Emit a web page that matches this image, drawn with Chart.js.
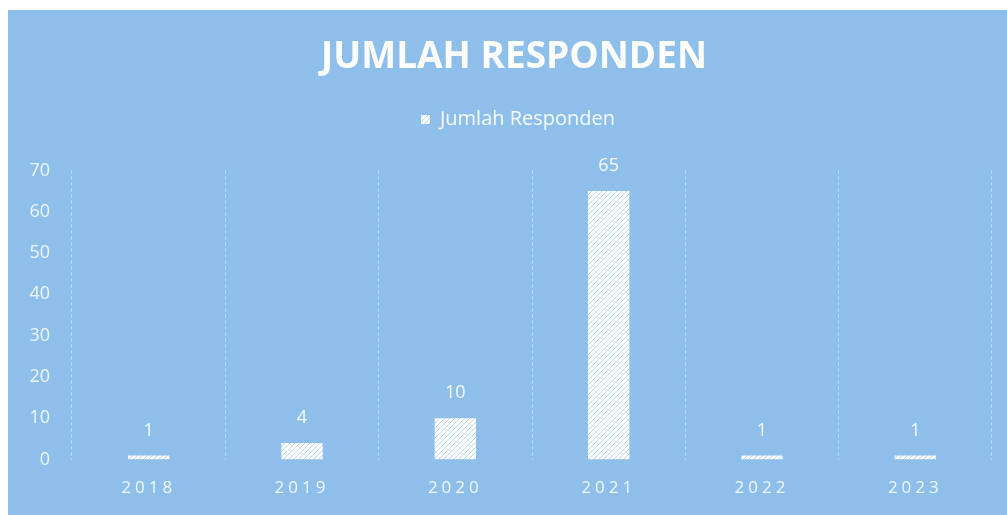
<!DOCTYPE html>
<html>
<head>
<meta charset="utf-8">
<script src="https://cdn.jsdelivr.net/npm/chart.js@4.4.1/dist/chart.umd.min.js"></script>
<style>
  html, body { margin: 0; padding: 0; background: #ffffff; overflow: hidden; }
  #wrap {
    position: absolute; left: 8px; top: 10px;
    width: 999px; height: 506px;
    background: #8ebfeb;
  }
</style>
</head>
<body>
<div id="wrap"><canvas id="respChart"></canvas></div>
<script>
// === Data ===
const years = ['2018', '2019', '2020', '2021', '2022', '2023'];
const responden = [1, 4, 10, 65, 1, 1];
const yTicks = [0, 10, 20, 30, 40, 50, 60, 70];

// hatch pattern (white with thin blue "/" stripes)
function hatch() {
  const s = 5;
  const c = document.createElement('canvas');
  c.width = s; c.height = s;
  const g = c.getContext('2d');
  g.fillStyle = '#ffffff';
  g.fillRect(0, 0, s, s);
  g.strokeStyle = 'rgba(142,191,235,0.6)';
  g.lineWidth = 1;
  g.beginPath();
  g.moveTo(-1, s + 1); g.lineTo(s + 1, -1);
  g.moveTo(-1, 1); g.lineTo(1, -1);
  g.moveTo(s - 1, s + 1); g.lineTo(s + 1, s - 1);
  g.stroke();
  return g.createPattern(c, 'repeat');
}

// extra room under the legend, and title/legend nudged right like the original
const headerTweak = {
  id: 'headerTweak',
  beforeLayout(chart) {
    const lg = chart.legend;
    if (lg && !lg._gapPatched) {
      const fit = lg.fit;
      lg.fit = function () { fit.call(this); this.height += 31; };
      lg._gapPatched = true;
    }
  },
  afterLayout(chart) {
    if (chart.titleBlock) { chart.titleBlock.left += 14; chart.titleBlock.right += 14; }
    if (chart.legend) { chart.legend.left += 18; chart.legend.right += 18; }
  }
};

// value labels above bars + letter spacing for the year labels
const barLabels = {
  id: 'barLabels',
  beforeDraw(chart) {
    chart.ctx.letterSpacing = '0px';
  },
  afterDatasetsDraw(chart) {
    const ctx = chart.ctx;
    const meta = chart.getDatasetMeta(0);
    ctx.save();
    ctx.fillStyle = 'rgba(255,255,255,0.92)';
    ctx.font = '18px "Open Sans"';
    ctx.textAlign = 'center';
    ctx.textBaseline = 'middle';
    meta.data.forEach((bar, i) => {
      ctx.fillText(responden[i], bar.x, bar.y - 25);
    });
    ctx.restore();
    ctx.letterSpacing = '4px';
  },
  afterDraw(chart) {
    chart.ctx.letterSpacing = '0px';
  }
};

Chart.defaults.font.family = '"Open Sans", sans-serif';

const ctx = document.getElementById('respChart').getContext('2d');
new Chart(ctx, {
  type: 'bar',
  data: {
    labels: years,
    datasets: [{
      label: 'Jumlah Responden',
      data: responden,
      backgroundColor: hatch(),
      borderWidth: 0,
      barPercentage: 0.54,
      categoryPercentage: 0.5
    }]
  },
  options: {
    responsive: true,
    maintainAspectRatio: false,
    animation: false,
    layout: { padding: { left: 0, right: 15, top: 0, bottom: 0 } },
    plugins: {
      title: {
        display: true,
        text: 'JUMLAH RESPONDEN',
        color: '#ffffff',
        font: { size: 37, weight: 'bold' },
        padding: { top: 25, bottom: 18 }
      },
      legend: {
        position: 'top',
        labels: {
          color: 'rgba(255,255,255,0.92)',
          font: { size: 20 },
          boxWidth: 9,
          boxHeight: 9,
          padding: 12
        }
      },
      tooltip: { enabled: false }
    },
    scales: {
      x: {
        grid: {
          display: true,
          offset: true,
          drawTicks: false,
          color: 'rgba(255,255,255,0.45)',
          lineWidth: 1,
          z: 0
        },
        border: { display: false, dash: [3, 3] },
        ticks: {
          color: 'rgba(255,255,255,0.88)',
          font: { size: 17 },
          padding: 18,
          z: 1
        }
      },
      y: {
        min: 0,
        max: 70,
        afterBuildTicks(scale) {
          scale.ticks = yTicks.map(v => ({ value: v }));
        },
        afterFit(scale) {
          scale.width = 64;
        },
        grid: { display: false, drawTicks: false },
        border: { display: false },
        ticks: {
          color: 'rgba(255,255,255,0.85)',
          font: { size: 18 },
          padding: 22
        }
      }
    }
  },
  plugins: [headerTweak, barLabels]
});
</script>
</body>
</html>
